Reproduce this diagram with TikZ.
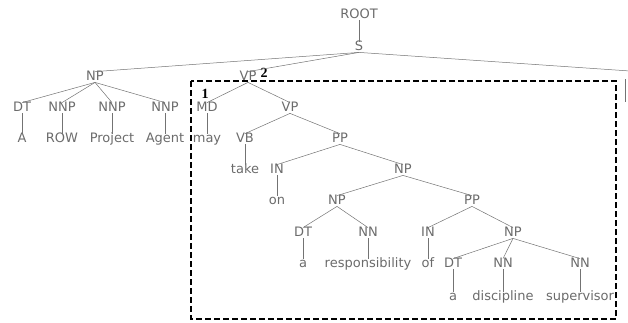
\documentclass[tikz,border=0pt]{standalone}
\usepackage{fontspec}
\setmainfont{DejaVu Sans}
\newfontfamily\numfont{Liberation Serif}
\begin{document}
\begin{tikzpicture}[x=1pt,y=-1pt,
  lbl/.style={font=\fontsize{13}{14}\selectfont, text=black!58, inner sep=1.2pt,
              text height=7.5pt, text depth=0.5pt},
  treeedge/.style={draw=black!55, line width=0.5pt},
  num/.style={font=\numfont\bfseries\fontsize{14}{15}\selectfont, inner sep=0pt},
  focusbox/.style={draw=black, line width=1.2pt, dash pattern=on 6pt off 3pt}
]
\useasboundingbox (0,0) rectangle (628,322);

% phrase-structure nodes
\node[lbl] (root) at (359,15) {ROOT};
\node[lbl] (s) at (359,47) {S};
\node[lbl] (np1) at (95,77) {NP};
\node[lbl] (vp1) at (248,77) {VP};
\node[lbl] (dt1) at (22,108) {DT};
\node[lbl] (nnp1) at (62,108) {NNP};
\node[lbl] (nnp2) at (112,108) {NNP};
\node[lbl] (nnp3) at (165,108) {NNP};
\node[lbl] (md) at (207,108) {MD};
\node[lbl] (vp2) at (290,108) {VP};
\node[lbl] (wa) at (22,139) {A};
\node[lbl] (wrow) at (62,139) {ROW};
\node[lbl] (wproject) at (112,139) {Project};
\node[lbl] (wagent) at (165,139) {Agent};
\node[lbl] (wmay) at (207,139) {may};
\node[lbl] (vb) at (245,139) {VB};
\node[lbl] (pp1) at (340,139) {PP};
\node[lbl] (wtake) at (245,170) {take};
\node[lbl] (in1) at (277,170) {IN};
\node[lbl] (np2) at (403,170) {NP};
\node[lbl] (won) at (277,201) {on};
\node[lbl] (np3) at (337,201) {NP};
\node[lbl] (pp2) at (472,201) {PP};
\node[lbl] (dt2) at (303,233) {DT};
\node[lbl] (nn1) at (368,233) {NN};
\node[lbl] (in2) at (428,233) {IN};
\node[lbl] (np4) at (513,233) {NP};
\node[lbl] (wa1) at (303,264) {a};
\node[lbl] (wresp) at (368,264) {responsibility};
\node[lbl] (wof) at (428,264) {of};
\node[lbl] (dt3) at (453,264) {DT};
\node[lbl] (nn2) at (503,264) {NN};
\node[lbl] (nn3) at (580,264) {NN};
\node[lbl] (wa2) at (453,297) {a};
\node[lbl] (wdisc) at (503,297) {discipline};
\node[lbl] (wsup) at (580,297) {supervisor};

% third child of S, running past the right edge
\coordinate (sx) at (630,71);
\coordinate (sxtop) at (625,79);
\coordinate (sxbot) at (625,102);

% numbered markers
\node[num] (m1) at (205,94) {1};
\node[num] (m2) at (264,73) {2};

% tree edges
\draw[treeedge] (root) -- (s);
\draw[treeedge] (s.south) -- (np1.north);
\draw[treeedge] (s.south) -- (vp1.north);
\draw[treeedge] (s.south) -- (sx);
\draw[treeedge] (sxtop) -- (sxbot);
\foreach \c in {dt1,nnp1,nnp2,nnp3} \draw[treeedge] (np1.south) -- (\c.north);
\draw[treeedge] (dt1) -- (wa);
\draw[treeedge] (nnp1) -- (wrow);
\draw[treeedge] (nnp2) -- (wproject);
\draw[treeedge] (nnp3) -- (wagent);
\draw[treeedge] (vp1.south) -- (md.north);
\draw[treeedge] (vp1.south) -- (vp2.north);
\draw[treeedge] (md) -- (wmay);
\draw[treeedge] (vp2.south) -- (vb.north);
\draw[treeedge] (vp2.south) -- (pp1.north);
\draw[treeedge] (vb) -- (wtake);
\draw[treeedge] (pp1.south) -- (in1.north);
\draw[treeedge] (pp1.south) -- (np2.north);
\draw[treeedge] (in1) -- (won);
\draw[treeedge] (np2.south) -- (np3.north);
\draw[treeedge] (np2.south) -- (pp2.north);
\draw[treeedge] (np3.south) -- (dt2.north);
\draw[treeedge] (np3.south) -- (nn1.north);
\draw[treeedge] (dt2) -- (wa1);
\draw[treeedge] (nn1) -- (wresp);
\draw[treeedge] (pp2.south) -- (in2.north);
\draw[treeedge] (pp2.south) -- (np4.north);
\draw[treeedge] (in2) -- (wof);
\foreach \c in {dt3,nn2,nn3} \draw[treeedge] (np4.south) -- (\c.north);
\draw[treeedge] (dt3) -- (wa2);
\draw[treeedge] (nn2) -- (wdisc);
\draw[treeedge] (nn3) -- (wsup);

% dashed frame around the verb phrase
\draw[focusbox] (191,81) rectangle (616,319);
\end{tikzpicture}
\end{document}
